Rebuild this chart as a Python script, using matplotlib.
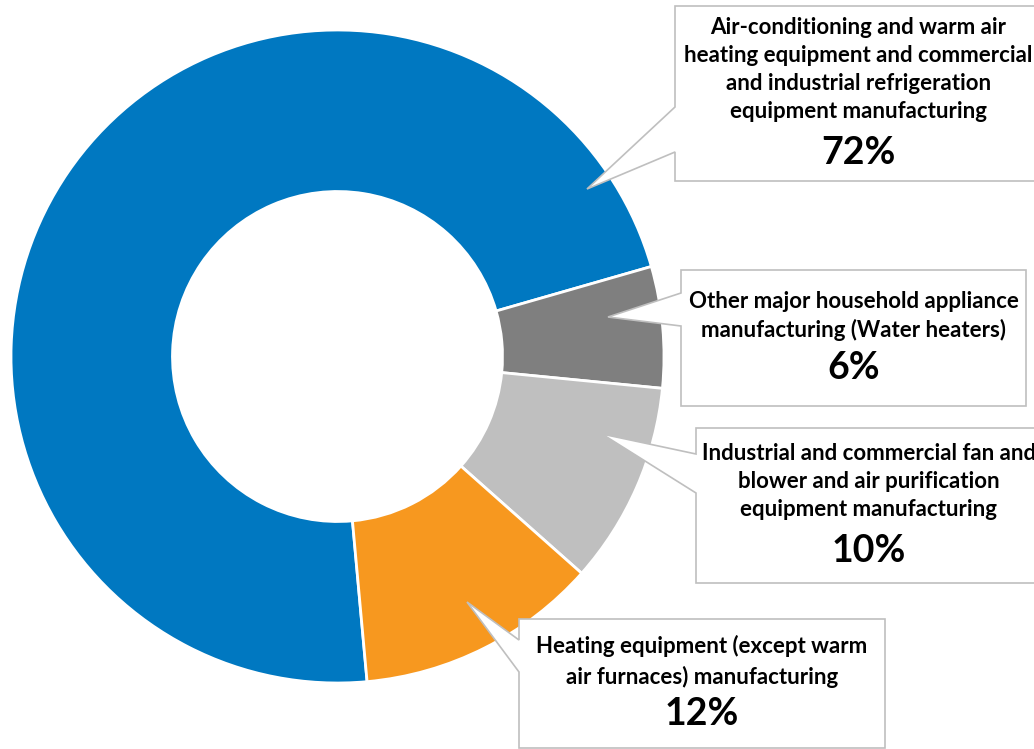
import matplotlib
matplotlib.use("Agg")
import matplotlib.pyplot as plt
from matplotlib.patches import Polygon

# Share of establishments by manufacturing category
categories = [
    "Air-conditioning and warm air\nheating equipment and commercial\nand industrial refrigeration\nequipment manufacturing",
    "Other major household appliance\nmanufacturing (Water heaters)",
    "Industrial and commercial fan and\nblower and air purification\nequipment manufacturing",
    "Heating equipment (except warm\nair furnaces) manufacturing",
]
shares = [72, 6, 10, 12]
colors = ["#0078C1", "#7F7F7F", "#BFBFBF", "#F7981F"]

W, H = 1034, 749
fig = plt.figure(figsize=(W / 100, H / 100), dpi=100)
ax = fig.add_axes([0, 0, 1, 1])

def Y(y):
    return H - y

R = 326.5
ax.pie(shares, colors=colors, startangle=-84.8, counterclock=False,
       center=(337.5, Y(356.5)), radius=R,
       wedgeprops=dict(width=R - 165, edgecolor="white", linewidth=2))
ax.set_xlim(0, W)
ax.set_ylim(0, H)
ax.set_aspect("auto")
ax.axis("off")

border = "#BFBFBF"
font = "Lato"

# Callouts: box (left, top, right, bottom), pointer base on left edge (y1, y2), tip
callouts = [
    dict(box=(675, 6, 1042, 181), base=(107, 152), tip=(587, 189),
         lines_y=(28, 56, 84, 112), pct_y=153),
    dict(box=(681, 270, 1026, 406), base=(293, 326), tip=(608, 317),
         lines_y=(302, 330), pct_y=368),
    dict(box=(696, 428, 1042, 583), base=(454, 493), tip=(602, 434),
         lines_y=(453, 482, 510), pct_y=551),
    dict(box=(519, 619, 885, 748), base=(640, 672), tip=(467, 602),
         lines_y=(646, 677), pct_y=714),
]

for cat, val, c in zip(categories, shares, callouts):
    l, t, r, b = c["box"]
    y1, y2 = c["base"]
    tx, ty = c["tip"]
    verts = [(l, Y(t)), (r, Y(t)), (r, Y(b)), (l, Y(b)),
             (l, Y(y2)), (tx, Y(ty)), (l, Y(y1))]
    ax.add_patch(Polygon(verts, closed=True, facecolor="white",
                         edgecolor=border, linewidth=1.2, zorder=3))
    cx = (l + r) / 2
    for line, ly in zip(cat.split("\n"), c["lines_y"]):
        ax.text(cx, Y(ly), line, ha="center", va="center", fontsize=16,
                fontweight="bold", family=font, color="black", zorder=4)
    ax.text(cx, Y(c["pct_y"]), f"{val}%", ha="center", va="center",
            fontsize=27, fontweight="bold", family=font, color="black", zorder=4)

fig.savefig("out.png", dpi=100)
